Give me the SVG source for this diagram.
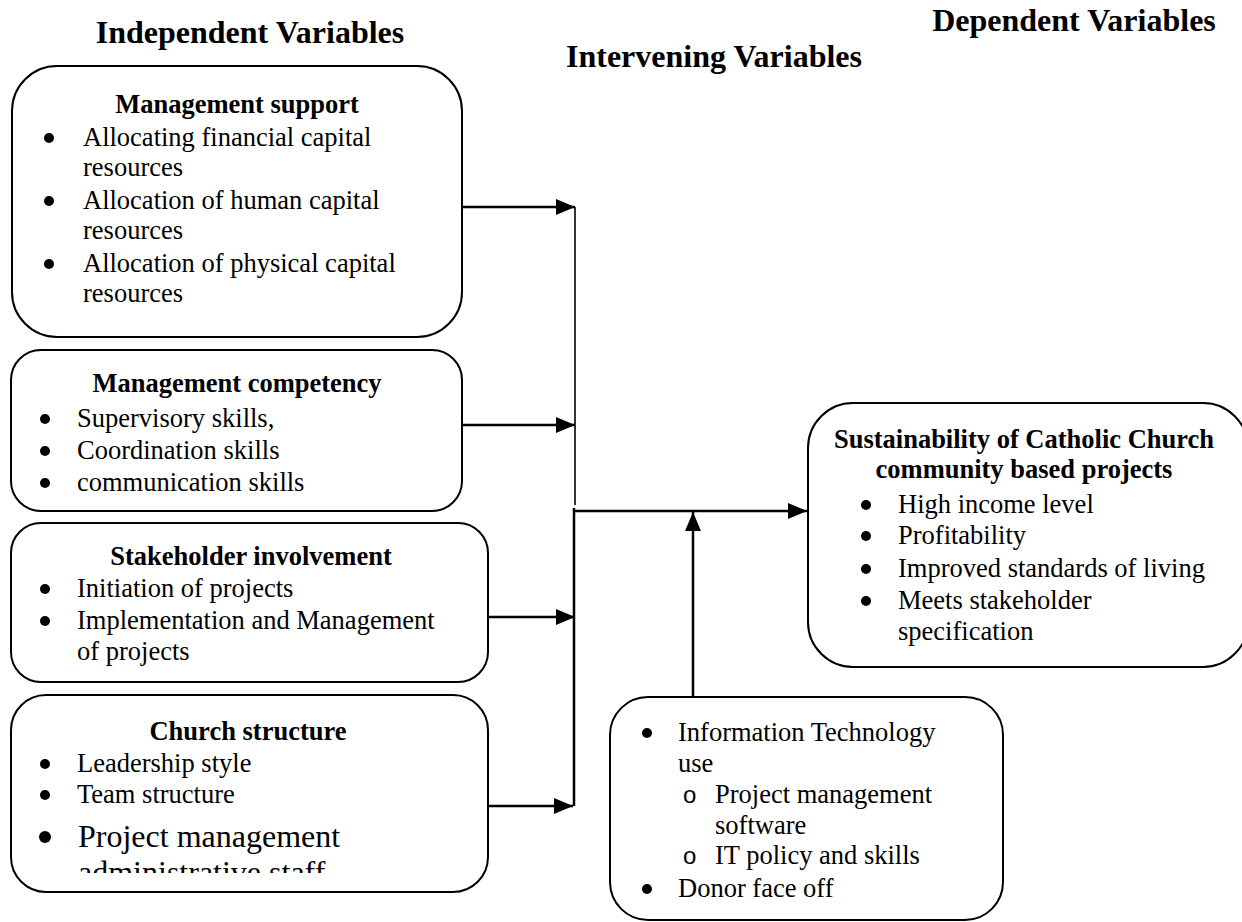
<svg xmlns="http://www.w3.org/2000/svg" width="1242" height="922" viewBox="0 0 1242 922">
<style>
  .box{fill:#fff;stroke:#000;stroke-width:2}
  text{font-family:"Liberation Serif","Times New Roman",serif;fill:#000}
  .title{font-size:32px;font-weight:bold;text-anchor:middle}
  .head{font-size:26.5px;font-weight:bold;text-anchor:middle}
  .t{font-size:26.5px}
  .big{font-size:32px}
  .dot{fill:#000}
  .o{font-family:"Liberation Sans","Arial",sans-serif;font-size:24px}
  .ln{fill:none;stroke:#000;stroke-width:2.5}
  .thin{fill:none;stroke:#000;stroke-width:1.6}
</style>
<defs>
  <marker id="ah" markerUnits="userSpaceOnUse" markerWidth="20" markerHeight="16" refX="19" refY="8" orient="auto">
    <path d="M0,0 L19,8 L0,16 z" fill="#000"/>
  </marker>
  <clipPath id="clip4"><rect x="11" y="695" width="477" height="178"/></clipPath>
</defs>
<rect width="1242" height="922" fill="#fff"/>

<g id="titles">
  <text class="title" x="250" y="43">Independent Variables</text>
  <text class="title" x="714" y="67">Intervening Variables</text>
  <text class="title" x="1074" y="31">Dependent Variables</text>
</g>

<g id="connectors">
  <path class="ln" d="M462,207 H575" marker-end="url(#ah)"/>
  <path class="ln" d="M462,425 H575" marker-end="url(#ah)"/>
  <path class="ln" d="M488,617 H575" marker-end="url(#ah)"/>
  <path class="ln" d="M488,806 H573" marker-end="url(#ah)"/>
  <path class="thin" d="M575,207 V505"/>
  <path class="ln" d="M574,508 V806"/>
  <path class="ln" d="M573,511 H807" marker-end="url(#ah)"/>
  <path class="ln" d="M693,697 V512" marker-end="url(#ah)"/>
</g>

<g id="management-support">
  <rect class="box" x="12" y="66" width="450" height="271" rx="45"/>
  <text class="head" x="237" y="113">Management support</text>
  <circle class="dot" cx="49" cy="138" r="5"/>
  <text class="t" x="83" y="146">Allocating financial capital</text>
  <text class="t" x="83" y="176">resources</text>
  <circle class="dot" cx="49" cy="201" r="5"/>
  <text class="t" x="83" y="209">Allocation of human capital</text>
  <text class="t" x="83" y="239">resources</text>
  <circle class="dot" cx="49" cy="264" r="5"/>
  <text class="t" x="83" y="272">Allocation of physical capital</text>
  <text class="t" x="83" y="302">resources</text>
</g>

<g id="management-competency">
  <rect class="box" x="11" y="350" width="451" height="161" rx="30"/>
  <text class="head" x="237" y="392">Management competency</text>
  <circle class="dot" cx="45" cy="419" r="5"/>
  <text class="t" x="77" y="427">Supervisory skills,</text>
  <circle class="dot" cx="45" cy="451" r="5"/>
  <text class="t" x="77" y="459">Coordination skills</text>
  <circle class="dot" cx="45" cy="483" r="5"/>
  <text class="t" x="77" y="491">communication skills</text>
</g>

<g id="stakeholder-involvement">
  <rect class="box" x="11" y="523" width="477" height="159" rx="30"/>
  <text class="head" x="251" y="565">Stakeholder involvement</text>
  <circle class="dot" cx="45" cy="589" r="5"/>
  <text class="t" x="77" y="597">Initiation of projects</text>
  <circle class="dot" cx="45" cy="621" r="5"/>
  <text class="t" x="77" y="629">Implementation and Management</text>
  <text class="t" x="77" y="660">of projects</text>
</g>

<g id="church-structure">
  <rect class="box" x="11" y="695" width="477" height="197" rx="35"/>
  <text class="head" x="248" y="740">Church structure</text>
  <circle class="dot" cx="45" cy="764" r="5"/>
  <text class="t" x="77" y="772">Leadership style</text>
  <circle class="dot" cx="45" cy="795" r="5"/>
  <text class="t" x="77" y="803">Team structure</text>
  <circle class="dot" cx="45" cy="837" r="6"/>
  <text class="t big" x="78" y="847">Project management</text>
  <text class="t big" x="78" y="883" clip-path="url(#clip4)">administrative staff</text>
</g>

<g id="sustainability">
  <rect class="box" x="808" y="403" width="440" height="264" rx="45"/>
  <text class="head" x="1024" y="448">Sustainability of Catholic Church</text>
  <text class="head" x="1024" y="478">community based projects</text>
  <circle class="dot" cx="866" cy="505" r="5"/>
  <text class="t" x="898" y="513">High income level</text>
  <circle class="dot" cx="866" cy="536" r="5"/>
  <text class="t" x="898" y="544">Profitability</text>
  <circle class="dot" cx="866" cy="569" r="5"/>
  <text class="t" x="898" y="577">Improved standards of living</text>
  <circle class="dot" cx="866" cy="601" r="5"/>
  <text class="t" x="898" y="609">Meets stakeholder</text>
  <text class="t" x="898" y="640">specification</text>
</g>

<g id="intervening">
  <rect class="box" x="610" y="697" width="393" height="223" rx="38"/>
  <circle class="dot" cx="647" cy="733" r="5"/>
  <text class="t" x="678" y="741">Information Technology</text>
  <text class="t" x="678" y="772">use</text>
  <text class="o" x="683" y="803">o</text>
  <text class="t" x="715" y="803">Project management</text>
  <text class="t" x="715" y="834">software</text>
  <text class="o" x="683" y="864">o</text>
  <text class="t" x="715" y="864">IT policy and skills</text>
  <circle class="dot" cx="647" cy="889" r="5"/>
  <text class="t" x="678" y="897">Donor face off</text>
</g>
</svg>
